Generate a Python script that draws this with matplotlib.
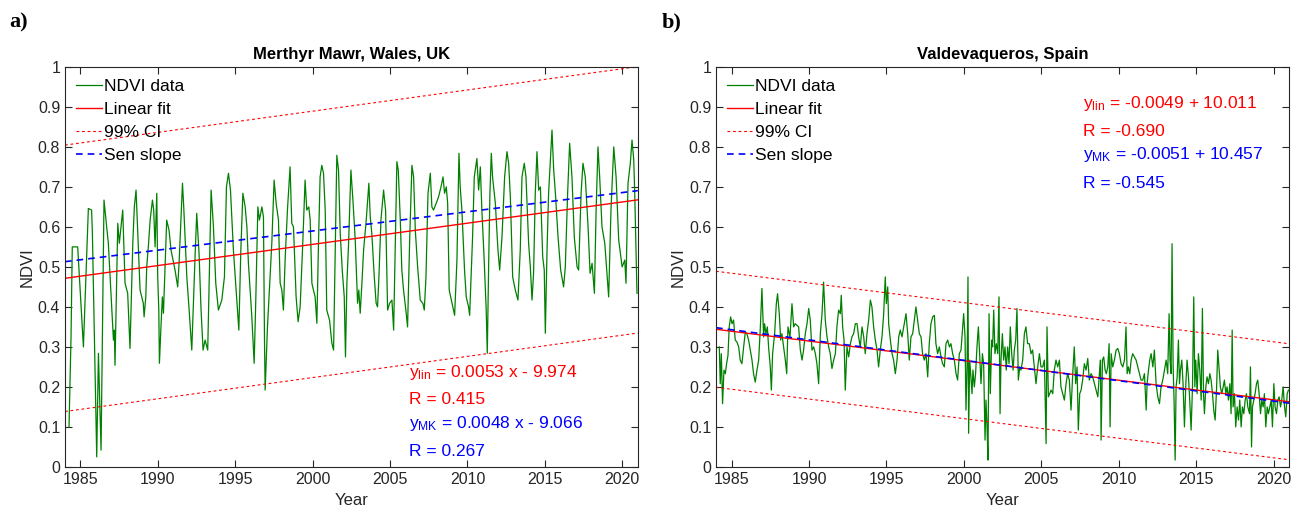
# NDVI time series with linear / Sen-slope trends for two dune sites
import numpy as np
import matplotlib
matplotlib.use('Agg')
import matplotlib.pyplot as plt

plt.rcParams.update({'font.family': 'Liberation Sans', 'font.size': 11,
                     'axes.edgecolor': '#262626', 'xtick.color': '#262626',
                     'ytick.color': '#262626', 'axes.labelcolor': '#262626'})

GREEN = (0, 0.5, 0)

# ---- Merthyr Mawr (Wales) ----
t_mm = [1984.26, 1984.39, 1984.47, 1984.82, 1985.19, 1985.51, 1985.72, 1985.77, 1986.05, 1986.16,
        1986.33, 1986.52, 1986.80, 1987.13, 1987.19, 1987.23, 1987.41, 1987.51, 1987.73, 1987.88,
        1988.05, 1988.20, 1988.38, 1988.48, 1988.59, 1988.85, 1989.06, 1989.11, 1989.22, 1989.28,
        1989.39, 1989.50, 1989.65, 1989.73, 1989.82, 1989.93, 1989.99, 1990.06, 1990.10, 1990.21,
        1990.29, 1990.36, 1990.47, 1990.57, 1990.72, 1990.85, 1991.11, 1991.28, 1991.37, 1991.46,
        1991.59, 1991.67, 1991.87, 1992.02, 1992.19, 1992.41, 1992.51, 1992.66, 1992.79, 1992.92,
        1993.05, 1993.22, 1993.33, 1993.44, 1993.59, 1993.74, 1993.91, 1994.13, 1994.30, 1994.43,
        1994.56, 1994.69, 1994.88, 1995.10, 1995.23, 1995.36, 1995.49, 1995.64, 1995.75, 1995.85,
        1996.07, 1996.22, 1996.33, 1996.46, 1996.56, 1996.72, 1996.82, 1996.89, 1996.93,
        1997.08, 1997.25, 1997.36, 1997.51, 1997.64, 1997.79, 1997.90, 1998.01, 1998.11, 1998.22,
        1998.37, 1998.54, 1998.65, 1998.76, 1998.93, 1999.06, 1999.19, 1999.36, 1999.51, 1999.62,
        1999.75, 1999.84, 1999.95, 2000.05, 2000.16, 2000.27, 2000.38, 2000.48, 2000.59, 2000.70,
        2000.81, 2000.91, 2001.09, 2001.24, 2001.35, 2001.45, 2001.56, 2001.67, 2001.78, 2001.91,
        2002.04, 2002.12, 2002.21, 2002.32, 2002.47, 2002.60, 2002.75, 2002.90, 2002.98, 2003.07,
        2003.18, 2003.29, 2003.46, 2003.63, 2003.72, 2003.82, 2003.98, 2004.10, 2004.19, 2004.28,
        2004.41, 2004.58, 2004.71, 2004.84, 2004.97, 2005.12, 2005.23, 2005.33, 2005.44, 2005.53,
        2005.66, 2005.76, 2005.87, 2006.02, 2006.13, 2006.26, 2006.41, 2006.52, 2006.63, 2006.78,
        2006.95, 2007.12, 2007.21, 2007.32, 2007.45, 2007.60, 2007.70, 2007.81, 2007.98, 2008.13,
        2008.29, 2008.42, 2008.52, 2008.63, 2008.72, 2008.82, 2009.00, 2009.17, 2009.32, 2009.45,
        2009.53, 2009.64, 2009.81, 2009.92, 2010.07, 2010.14, 2010.22, 2010.33, 2010.44, 2010.61,
        2010.72, 2010.83, 2010.93, 2011.08, 2011.21, 2011.28, 2011.37, 2011.45, 2011.54, 2011.62,
        2011.80, 2011.97, 2012.08, 2012.23, 2012.40, 2012.55, 2012.66, 2012.77, 2012.92, 2013.09,
        2013.26, 2013.41, 2013.52, 2013.67, 2013.78, 2013.95, 2014.06, 2014.17, 2014.27, 2014.38,
        2014.49, 2014.60, 2014.71, 2014.86, 2014.96, 2015.03, 2015.14, 2015.24, 2015.37, 2015.46,
        2015.57, 2015.68, 2015.85, 2016.02, 2016.21, 2016.32, 2016.47, 2016.60, 2016.75, 2016.90,
        2017.08, 2017.18, 2017.34, 2017.46, 2017.61, 2017.79, 2017.92, 2018.05, 2018.20, 2018.31,
        2018.43, 2018.54, 2018.69, 2018.87, 2019.12, 2019.27, 2019.45, 2019.60, 2019.77, 2019.99,
        2020.16, 2020.24, 2020.37, 2020.52, 2020.63, 2020.74, 2020.80, 2020.95]
ndvi_mm = [0.101, 0.326, 0.551, 0.551, 0.301, 0.647, 0.643, 0.585, 0.026, 0.285,
           0.043, 0.668, 0.560, 0.318, 0.343, 0.255, 0.610, 0.560, 0.643, 0.460,
           0.435, 0.297, 0.560, 0.651, 0.693, 0.443, 0.410, 0.376, 0.426, 0.501,
           0.555, 0.618, 0.668, 0.643, 0.551, 0.685, 0.476, 0.393, 0.260, 0.360,
           0.426, 0.385, 0.510, 0.618, 0.593, 0.543, 0.493, 0.451, 0.510, 0.593,
           0.710, 0.651, 0.476, 0.393, 0.293, 0.535, 0.635, 0.535, 0.393, 0.293,
           0.318, 0.293, 0.493, 0.693, 0.601, 0.460, 0.393, 0.418, 0.476, 0.701,
           0.735, 0.693, 0.543, 0.418, 0.343, 0.543, 0.685, 0.651, 0.601, 0.510,
           0.376, 0.260, 0.426, 0.651, 0.618, 0.651, 0.626, 0.310, 0.193,
           0.351, 0.476, 0.560, 0.718, 0.660, 0.618, 0.460, 0.443, 0.393, 0.518,
           0.643, 0.751, 0.610, 0.601, 0.426, 0.364, 0.401, 0.560, 0.718, 0.643,
           0.651, 0.618, 0.460, 0.443, 0.426, 0.360, 0.568, 0.726, 0.755, 0.735,
           0.643, 0.393, 0.368, 0.310, 0.293, 0.518, 0.780, 0.743, 0.585, 0.493,
           0.426, 0.276, 0.460, 0.560, 0.743, 0.668, 0.568, 0.410, 0.443, 0.385,
           0.460, 0.543, 0.618, 0.710, 0.626, 0.585, 0.476, 0.410, 0.401, 0.476,
           0.618, 0.693, 0.643, 0.393, 0.410, 0.418, 0.343, 0.543, 0.764, 0.743,
           0.618, 0.493, 0.443, 0.393, 0.351, 0.560, 0.755, 0.726, 0.593, 0.501,
           0.418, 0.410, 0.393, 0.476, 0.685, 0.735, 0.651, 0.643, 0.660, 0.676,
           0.701, 0.726, 0.685, 0.701, 0.660, 0.443, 0.410, 0.380, 0.518, 0.785,
           0.701, 0.643, 0.493, 0.426, 0.401, 0.380, 0.460, 0.576, 0.726, 0.772,
           0.693, 0.751, 0.643, 0.518, 0.393, 0.285, 0.510, 0.685, 0.785, 0.726,
           0.660, 0.543, 0.493, 0.576, 0.726, 0.789, 0.760, 0.676, 0.476, 0.443,
           0.418, 0.543, 0.726, 0.760, 0.726, 0.560, 0.501, 0.418, 0.485, 0.685,
           0.789, 0.693, 0.701, 0.526, 0.493, 0.335, 0.543, 0.685, 0.776, 0.843,
           0.743, 0.685, 0.576, 0.493, 0.451, 0.501, 0.685, 0.810, 0.726, 0.576,
           0.501, 0.493, 0.685, 0.760, 0.726, 0.601, 0.485, 0.510, 0.435, 0.643,
           0.801, 0.726, 0.601, 0.560, 0.426, 0.643, 0.801, 0.726, 0.568, 0.501,
           0.518, 0.460, 0.710, 0.760, 0.818, 0.769, 0.693, 0.435]

# ---- Valdevaqueros (Spain) ----
t_vq = [1984.21, 1984.27, 1984.34, 1984.42, 1984.51, 1984.60, 1984.68, 1984.77, 1984.85, 1984.94,
        1985.03, 1985.13, 1985.24, 1985.35, 1985.46, 1985.56, 1985.67, 1985.78, 1985.89, 1985.99,
        1986.10, 1986.21, 1986.32, 1986.42, 1986.53, 1986.64, 1986.75, 1986.86, 1986.96, 1987.07,
        1987.13, 1987.22, 1987.31, 1987.39, 1987.50, 1987.57, 1987.65, 1987.78, 1987.89, 1987.97,
        1988.08, 1988.17, 1988.25, 1988.36, 1988.47, 1988.56, 1988.64, 1988.77, 1988.90, 1989.01,
        1989.11, 1989.22, 1989.33, 1989.44, 1989.55, 1989.65, 1989.76, 1989.87, 1989.98, 1990.08,
        1990.19, 1990.30, 1990.41, 1990.51, 1990.62, 1990.73, 1990.84, 1990.94, 1991.05, 1991.16,
        1991.27, 1991.37, 1991.48, 1991.59, 1991.70, 1991.80, 1991.91, 1992.02, 1992.08, 1992.17,
        1992.26, 1992.34, 1992.45, 1992.56, 1992.67, 1992.77, 1992.88, 1992.99, 1993.10, 1993.20,
        1993.31, 1993.42, 1993.53, 1993.63, 1993.74, 1993.85, 1993.96, 1994.06, 1994.17, 1994.28,
        1994.39, 1994.49, 1994.60, 1994.71, 1994.82, 1994.92, 1994.99, 1995.08, 1995.14, 1995.25,
        1995.36, 1995.46, 1995.57, 1995.68, 1995.79, 1995.89, 1996.00,
        1996.26, 1996.37, 1996.47, 1996.58, 1996.69, 1996.80, 1996.90,
        1997.01, 1997.12, 1997.23, 1997.33, 1997.44, 1997.55, 1997.66, 1997.76, 1997.87, 1997.98,
        1998.09, 1998.19, 1998.30, 1998.41, 1998.52, 1998.62, 1998.73, 1998.84, 1998.95,
        1999.06, 1999.16, 1999.27, 1999.38, 1999.49, 1999.59, 1999.70, 1999.81, 1999.92, 1999.98,
        2000.07, 2000.13, 2000.20, 2000.26, 2000.30, 2000.37, 2000.45, 2000.52, 2000.58, 2000.67,
        2000.75, 2000.84, 2000.93,
        2001.01, 2001.10, 2001.19, 2001.27, 2001.36, 2001.42, 2001.49, 2001.55, 2001.62, 2001.70,
        2001.79, 2001.85, 2001.92,
        2002.00, 2002.09, 2002.18, 2002.26, 2002.33, 2002.39, 2002.48, 2002.56, 2002.65, 2002.73,
        2002.82, 2002.91, 2002.99,
        2003.08, 2003.17, 2003.25, 2003.34, 2003.42, 2003.51, 2003.60, 2003.68, 2003.79, 2003.90,
        2004.00, 2004.11, 2004.22, 2004.33, 2004.43, 2004.54, 2004.65, 2004.76, 2004.87, 2004.97,
        2005.08, 2005.19, 2005.30, 2005.36, 2005.45, 2005.53, 2005.62, 2005.73, 2005.83, 2005.94,
        2006.05, 2006.16, 2006.26, 2006.37, 2006.48, 2006.59, 2006.69, 2006.80, 2006.91,
        2007.02, 2007.12, 2007.21, 2007.30, 2007.38, 2007.47, 2007.56, 2007.66, 2007.77, 2007.88,
        2007.99, 2008.09, 2008.20, 2008.31,
        2008.53, 2008.64, 2008.74, 2008.81, 2008.85, 2008.94, 2009.02, 2009.11, 2009.19, 2009.28,
        2009.37, 2009.43, 2009.50, 2009.60, 2009.71, 2009.82, 2009.93, 2010.03, 2010.14, 2010.25,
        2010.36, 2010.46, 2010.53, 2010.61, 2010.70, 2010.79, 2010.89, 2011.00, 2011.11, 2011.22,
        2011.33, 2011.43, 2011.54, 2011.65, 2011.76, 2011.82, 2011.91, 2011.99, 2012.08, 2012.19,
        2012.29, 2012.40, 2012.51, 2012.62, 2012.72, 2012.83, 2012.94, 2013.05, 2013.15, 2013.24,
        2013.30, 2013.37, 2013.43, 2013.50, 2013.56, 2013.63, 2013.69, 2013.76, 2013.84, 2013.91,
        2013.97, 2014.06, 2014.14, 2014.23, 2014.32, 2014.40, 2014.49, 2014.57, 2014.66, 2014.75,
        2014.83, 2014.90, 2014.96, 2015.05, 2015.13, 2015.22, 2015.31, 2015.39, 2015.46, 2015.52,
        2015.61, 2015.69, 2015.78, 2015.87, 2015.95, 2016.04, 2016.12, 2016.21, 2016.30, 2016.38,
        2016.47, 2016.55, 2016.64, 2016.73, 2016.81, 2016.90, 2016.98, 2017.07, 2017.16, 2017.24,
        2017.31, 2017.37, 2017.46, 2017.54, 2017.63, 2017.72, 2017.80, 2017.89, 2017.97, 2018.06,
        2018.15, 2018.23, 2018.32, 2018.43, 2018.49, 2018.56, 2018.62, 2018.71, 2018.79, 2018.88,
        2018.96, 2019.05, 2019.14, 2019.22, 2019.31, 2019.39, 2019.48, 2019.57, 2019.65, 2019.74,
        2019.83, 2019.91, 2020.00, 2020.08, 2020.17, 2020.26, 2020.34, 2020.43, 2020.51, 2020.60,
        2020.69, 2020.77, 2020.86, 2020.94]
ndvi_vq = [0.301, 0.209, 0.284, 0.159, 0.243, 0.234, 0.259, 0.280, 0.351, 0.376,
           0.359, 0.368, 0.318, 0.313, 0.301, 0.268, 0.259, 0.301, 0.338, 0.334,
           0.318, 0.293, 0.268, 0.234, 0.213, 0.243, 0.268, 0.351, 0.447, 0.326,
           0.359, 0.334, 0.351, 0.301, 0.251, 0.193, 0.284, 0.334, 0.409, 0.434,
           0.384, 0.318, 0.334, 0.301, 0.268, 0.234, 0.351, 0.326, 0.409, 0.351,
           0.359, 0.355, 0.351, 0.293, 0.268, 0.293, 0.334, 0.359, 0.397, 0.368,
           0.293, 0.301, 0.284, 0.259, 0.209, 0.334, 0.384, 0.463, 0.368, 0.326,
           0.301, 0.284, 0.247, 0.268, 0.284, 0.351, 0.393, 0.384, 0.430, 0.351,
           0.318, 0.193, 0.301, 0.276, 0.309, 0.326, 0.334, 0.359, 0.359, 0.326,
           0.301, 0.351, 0.326, 0.284, 0.334, 0.368, 0.418, 0.401, 0.351, 0.318,
           0.293, 0.251, 0.293, 0.326, 0.384, 0.476, 0.409, 0.451, 0.359, 0.318,
           0.284, 0.268, 0.234, 0.268, 0.326, 0.343, 0.326,
           0.384, 0.334, 0.268, 0.326, 0.334, 0.368, 0.401, 0.368, 0.334, 0.326,
           0.284, 0.268, 0.284, 0.226, 0.309, 0.359, 0.376, 0.380, 0.309, 0.284,
           0.301, 0.276, 0.259, 0.251, 0.309, 0.318, 0.301, 0.309, 0.284, 0.268,
           0.234, 0.218, 0.284, 0.293, 0.351, 0.384, 0.326, 0.143, 0.251, 0.476,
           0.085, 0.268, 0.226, 0.184, 0.243, 0.201, 0.234, 0.301, 0.351, 0.284,
           0.209, 0.284, 0.259, 0.068, 0.168, 0.101, 0.018, 0.384, 0.184, 0.318,
           0.301, 0.393, 0.284, 0.309, 0.284, 0.426, 0.134, 0.268, 0.334, 0.268,
           0.301, 0.243, 0.301, 0.259, 0.351, 0.284, 0.243, 0.293, 0.318, 0.397,
           0.218, 0.251, 0.243, 0.268, 0.334, 0.351, 0.309, 0.309, 0.284, 0.293,
           0.251, 0.209, 0.251, 0.284, 0.251, 0.251, 0.268, 0.059, 0.351, 0.176,
           0.184, 0.193, 0.184, 0.243, 0.268, 0.251, 0.268, 0.201, 0.184, 0.168,
           0.209, 0.234, 0.218, 0.143, 0.234, 0.301, 0.209, 0.251, 0.093, 0.184,
           0.193, 0.218, 0.259, 0.243, 0.272, 0.218, 0.234, 0.226,
           0.193, 0.176, 0.234, 0.268, 0.068, 0.268, 0.276, 0.243, 0.234, 0.251,
           0.309, 0.101, 0.284, 0.251, 0.268, 0.293, 0.297, 0.284, 0.259, 0.251,
           0.268, 0.351, 0.234, 0.251, 0.234, 0.268, 0.284, 0.276, 0.268, 0.251,
           0.234, 0.218, 0.218, 0.234, 0.143, 0.209, 0.243, 0.268, 0.284, 0.251,
           0.293, 0.209, 0.176, 0.159, 0.201, 0.218, 0.243, 0.268, 0.234, 0.384,
           0.268, 0.234, 0.559, 0.251, 0.168, 0.018, 0.201, 0.226, 0.318, 0.209,
           0.243, 0.268, 0.209, 0.101, 0.209, 0.268, 0.226, 0.168, 0.093, 0.201,
           0.426, 0.201, 0.268, 0.184, 0.284, 0.243, 0.168, 0.397, 0.184, 0.134,
           0.201, 0.226, 0.209, 0.234, 0.218, 0.184, 0.143, 0.118, 0.193, 0.293,
           0.243, 0.201, 0.184, 0.201, 0.218, 0.184, 0.201, 0.168, 0.209, 0.134,
           0.343, 0.151, 0.184, 0.101, 0.151, 0.118, 0.168, 0.101, 0.151, 0.134,
           0.168, 0.184, 0.151, 0.134, 0.251, 0.051, 0.151, 0.168, 0.184, 0.209,
           0.218, 0.184, 0.134, 0.168, 0.151, 0.184, 0.101, 0.151, 0.134, 0.151,
           0.168, 0.101, 0.209, 0.151, 0.134, 0.168, 0.176, 0.151, 0.168, 0.201,
           0.151, 0.126, 0.184, 0.193]

# trend parameters: slope per year, fitted value at start of record, CI half-width
trend_mm = dict(lin_slope=0.0053, lin_start=0.4725, mk_slope=0.0048, mk_start=0.514, ci=0.333)
trend_vq = dict(lin_slope=-0.0049, lin_start=0.345, mk_slope=-0.0051, mk_start=0.349, ci=0.145)

eq_mm = [r'$\mathregular{y_{lin}}$ = 0.0053 x - 9.974', 'R = 0.415',
         r'$\mathregular{y_{MK}}$ = 0.0048 x - 9.066', 'R = 0.267']
eq_vq = [r'$\mathregular{y_{lin}}$ = -0.0049 + 10.011', 'R = -0.690',
         r'$\mathregular{y_{MK}}$ = -0.0051 + 10.457', 'R = -0.545']

T0, T1 = 1984.0, 2021.0


def draw_panel(ax, t, ndvi, tr, title, eqs, eq_x, eq_y):
    tt = np.array([T0, T1])
    lin = tr['lin_start'] + tr['lin_slope'] * (tt - T0)
    mk = tr['mk_start'] + tr['mk_slope'] * (tt - T0)
    ax.plot(t, ndvi, color=GREEN, lw=0.9, label='NDVI data')
    ax.plot(tt, lin, color='r', lw=1.0, label='Linear fit')
    ax.plot(tt, lin + tr['ci'], color='r', lw=0.8, ls=(0, (2.5, 2.5)), label='99% CI')
    ax.plot(tt, lin - tr['ci'], color='r', lw=0.8, ls=(0, (2.5, 2.5)))
    ax.plot(tt, mk, color='b', lw=1.2, ls=(0, (4, 3)), label='Sen slope')

    ax.set_xlim(T0, T1)
    ax.set_ylim(0, 1)
    ax.set_xticks(range(1985, 2021, 5))
    ax.set_yticks(np.arange(0, 1.01, 0.1))
    ax.set_yticklabels(['0'] + ['%.1f' % v for v in np.arange(0.1, 0.95, 0.1)] + ['1'])
    ax.tick_params(direction='in', top=True, right=True, length=5, width=0.8, labelsize=11.5)
    for s in ax.spines.values():
        s.set_linewidth(0.8)
    ax.set_xlabel('Year', fontsize=12)
    ax.set_ylabel('NDVI', fontsize=12, labelpad=2)
    ax.set_title(title, fontweight='bold', fontsize=12, color='k', pad=6)

    ax.legend(loc='upper left', frameon=False, fontsize=12.5, handlelength=1.5,
              handletextpad=0.12, labelspacing=0.46, borderaxespad=0.25, borderpad=0.4)

    cols = ['r', 'r', 'b', 'b']
    for txt, col, yy in zip(eqs, cols, eq_y):
        ax.text(eq_x, yy, txt, color=col, va='center', ha='left', fontsize=12.5)


fig = plt.figure(figsize=(13.05, 5.16), dpi=100)
ax_a = fig.add_axes([0.0498, 0.0944, 0.4389, 0.7752])
ax_b = fig.add_axes([0.5487, 0.0944, 0.4393, 0.7752])

draw_panel(ax_a, t_mm, ndvi_mm, trend_mm, 'Merthyr Mawr, Wales, UK', eq_mm,
           2006.2, [0.238, 0.170, 0.110, 0.039])
draw_panel(ax_b, t_vq, ndvi_vq, trend_vq, 'Valdevaqueros, Spain', eq_vq,
           2007.7, [0.910, 0.839, 0.781, 0.710])

fig.text(0.007, 0.957, 'a)', family='Liberation Serif', fontweight='bold', fontsize=16, va='center')
fig.text(0.507, 0.957, 'b)', family='Liberation Serif', fontweight='bold', fontsize=16, va='center')

fig.savefig('out.png', dpi=100)
